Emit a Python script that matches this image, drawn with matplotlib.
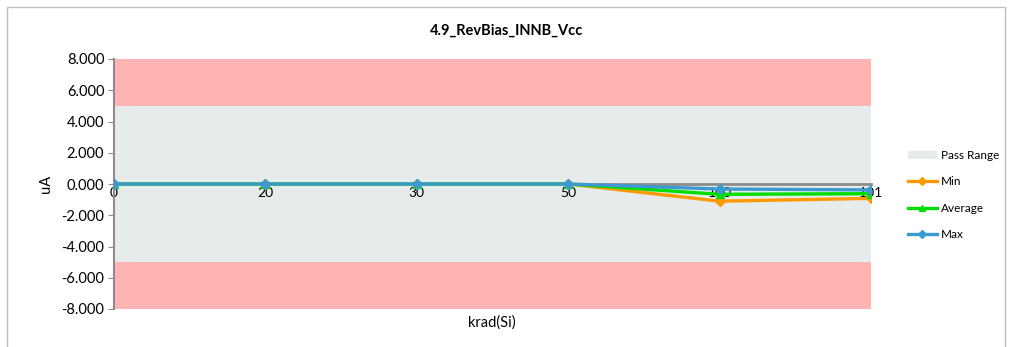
import numpy as np
import matplotlib.pyplot as plt
from matplotlib.patches import Rectangle, Patch
from matplotlib.lines import Line2D

plt.rcParams['font.family'] = ['Lato', 'DejaVu Sans']

#Data
doses = ['0', '20', '30', '50', '100', '101']
min_vals = [0.0, 0.0, 0.0, 0.0, -1.10, -0.92]
avg_vals = [0.0, 0.0, 0.0, 0.0, -0.66, -0.62]
max_vals = [0.0, 0.0, 0.0, 0.0, -0.32, -0.38]
pass_lo, pass_hi = -5.0, 5.0
y_ticks = [8, 6, 4, 2, 0, -2, -4, -6, -8]

fig = plt.figure(figsize=(10.15, 3.47), dpi=100)
ax = fig.add_axes([114/1015, 1-309/347, (871-114)/1015, (309-59)/347])

x = np.arange(len(doses))

#Bands
ax.axhspan(pass_hi, 8, color='#FFB3B3', lw=0, zorder=0)
ax.axhspan(-8, pass_lo, color='#FFB3B3', lw=0, zorder=0)
ax.axhspan(pass_lo, pass_hi, color='#E6EBEB', lw=0, zorder=0)

#Series
ax.plot(x, min_vals, color='#FF9900', lw=2.4, marker='D', ms=5, zorder=3)
ax.plot(x, avg_vals, color='#00DD00', lw=2.4, marker='^', ms=6, zorder=4)
ax.plot(x, max_vals, color='#3C9AD0', lw=2.4, marker='D', ms=5, zorder=5)

ax.set_xlim(0, len(doses)-1)
ax.set_ylim(-8, 8)
ax.set_yticks(y_ticks)
ax.set_yticklabels(['%.3f' % v for v in y_ticks], fontsize=10.5)
ax.set_xticks(x)
ax.set_xticklabels(doses, fontsize=9)

for s in ['top', 'right']:
    ax.spines[s].set_visible(False)
ax.spines['left'].set_color('#8C8C8C')
ax.spines['left'].set_linewidth(1.5)
ax.spines['bottom'].set_position(('data', 0))
ax.spines['bottom'].set_color('#8C8C8C')
ax.spines['bottom'].set_linewidth(2)
ax.spines['bottom'].set_zorder(2)
ax.tick_params(axis='y', length=4, color='#8C8C8C', pad=3)
ax.tick_params(axis='x', length=0, pad=2)

ax.set_ylabel('uA', fontsize=10.5, labelpad=6)
fig.text(507/1015, 1-31/347, '4.9_RevBias_INNB_Vcc', ha='center', va='center',
         fontsize=10.5, fontweight='bold')
fig.text(492/1015, 1-323/347, 'krad(Si)', ha='center', va='center', fontsize=10.5)

#Legend
handles = [Patch(facecolor='#E6EBEB', edgecolor='none'),
           Line2D([], [], color='#FF9900', lw=2.4, marker='D', ms=4),
           Line2D([], [], color='#00DD00', lw=2.4, marker='^', ms=5),
           Line2D([], [], color='#3C9AD0', lw=2.4, marker='D', ms=4)]
fig.legend(handles, ['Pass Range', 'Min', 'Average', 'Max'],
           loc='center left', bbox_to_anchor=(897/1015, 1-195/347),
           frameon=False, fontsize=8.5, handlelength=2.5, labelspacing=1.3,
           handletextpad=0.3)

#Chart border
fig.add_artist(Rectangle((7/1015, -0.01), (1005-7)/1015, 1-7/347+0.01,
                         transform=fig.transFigure, fill=False,
                         edgecolor='#BFBFBF', lw=1))

fig.savefig('out.png', dpi=100)
